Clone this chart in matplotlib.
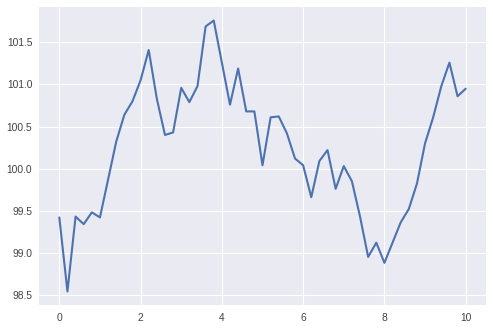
import numpy as np
import matplotlib
matplotlib.use("Agg")
import matplotlib.pyplot as plt

# 값은 그림에서 읽어낸 추정치
x = np.round(np.arange(0, 10.01, 0.2), 1)
y = [99.42, 98.54, 99.43, 99.34, 99.48, 99.42, 99.87, 100.32, 100.64, 100.80,
     101.05, 101.41, 100.83, 100.40, 100.43, 100.96, 100.79, 100.98, 101.69, 101.76,
     101.26, 100.76, 101.19, 100.68, 100.68, 100.04, 100.61, 100.62, 100.42, 100.12,
     100.04, 99.66, 100.09, 100.22, 99.76, 100.03, 99.85, 99.43, 98.95, 99.12,
     98.88, 99.12, 99.36, 99.52, 99.82, 100.30, 100.61, 100.98, 101.26, 100.86,
     100.95]

plt.style.use("seaborn-v0_8-darkgrid")
plt.rcParams["font.family"] = ["Liberation Sans", "DejaVu Sans"]

fig = plt.figure(figsize=(4.93, 3.3), dpi=100)
ax = fig.add_axes([39 / 493, 25 / 330, 447 / 493, 298 / 330])
ax.plot(x, y, color="#4C72B0", linewidth=1.5)

ax.set_xticks([0, 2, 4, 6, 8, 10])
ax.set_yticks([98.5, 99.0, 99.5, 100.0, 100.5, 101.0, 101.5])
ax.tick_params(axis="x", labelsize=7.4, labelcolor="#444444", pad=6)
ax.tick_params(axis="y", labelsize=7.4, labelcolor="#444444", pad=4.8)

fig.savefig("out.png", dpi=100)
